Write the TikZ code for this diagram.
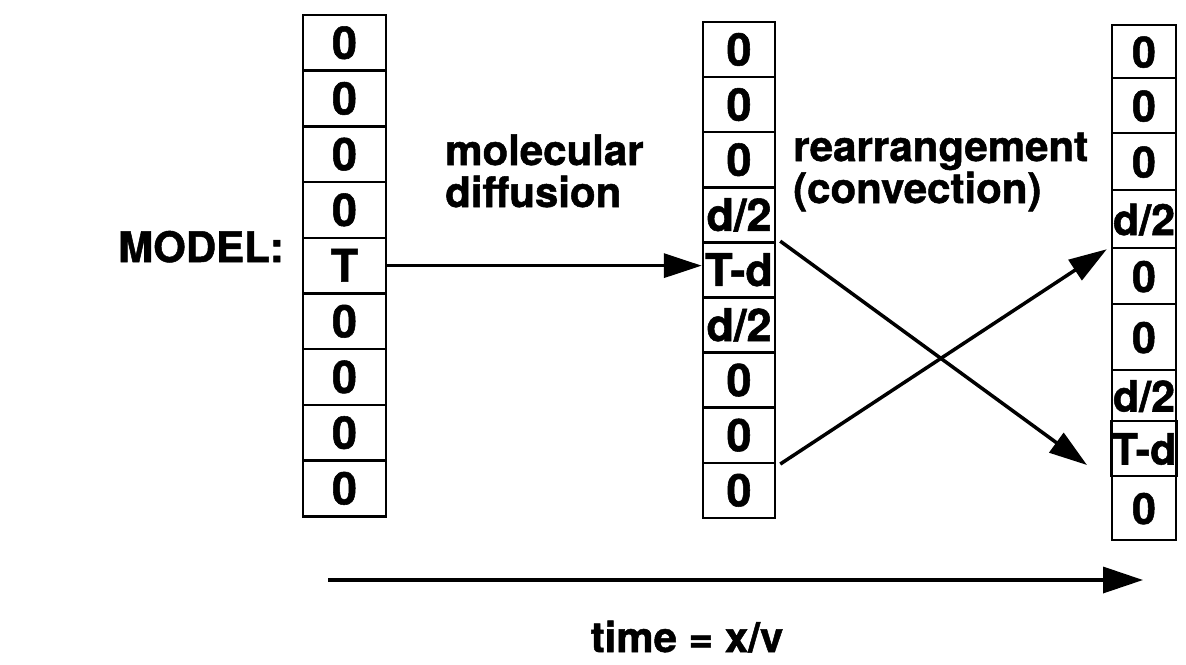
\documentclass[tikz,border=0pt]{standalone}
\usepackage{fontspec}
\setmainfont{TeX Gyre Heros}[BoldFeatures={FakeBold=1.2}]
\usetikzlibrary{arrows.meta}
\begin{document}
\begin{tikzpicture}[x=1pt,y=-1pt,
  cell/.style={draw, line width=2.5pt, inner sep=0pt, text height=32pt, text depth=0pt,
    font=\fontsize{45}{48}\selectfont\bfseries},
  lbl/.style={font=\fontsize{42}{44}\selectfont\bfseries, inner sep=0pt, anchor=base west},
  arr/.style={line width=3.5pt, -{Triangle[length=38pt,width=24pt]}}]
\useasboundingbox (0,0) rectangle (1186,664);
% column 1
\foreach \v [count=\i] in {0,0,0,0,T,0,0,0,0}
  \node[cell, minimum width=83pt, minimum height=55.7pt] (a\i) at (344.5,{15+55.7*(\i-0.5)}) {\v};
% column 2
\foreach \v [count=\i] in {0,0,0,d/2,T-d,d/2,0,0,0}
  \node[cell, minimum width=72pt, minimum height=55.1pt] (b\i) at (739,{22+55.1*(\i-0.5)}) {\v};
% column 3
\foreach \v/\c/\h [count=\i] in {0/51.5/53, 0/105.5/55, 0/161.5/57, {d/2}/219/58, 0/276/56,
    0/337/66, {d/2}/395.5/51, {T-d}/448.5/55, 0/508/64}
  \node[cell, minimum width=64pt, minimum height=\h pt, font=\fontsize{43}{46}\selectfont\bfseries] (c\i) at (1144,\c) {\v};
% labels
\node[lbl] (model) at (118,262) {MODEL:};
\node[lbl] (m1) at (445,165) {molecular};
\node[lbl] (m2) at (445,207) {diffusion};
\node[lbl] (r1) at (793,161) {rearrangement};
\node[lbl] (r2) at (793,203) {(convection)};
\node[lbl, anchor=base] (tm) at (687,652) {time = x/v};
% connectors
\coordinate (e1) at (1087,465);
\coordinate (t0) at (328,580);
\coordinate (t1) at (1143,580);
\draw[arr] (a5.east) -- (a5.east -| b5.west);
\draw[arr] ([xshift=4pt]b5.north east) -- (e1);
\draw[arr] ([xshift=4pt]b8.south east) -- ([xshift=-4pt]c4.south west);
\draw[arr, -{Triangle[length=40pt,width=26pt]}] (t0) -- (t1);
\end{tikzpicture}
\end{document}
